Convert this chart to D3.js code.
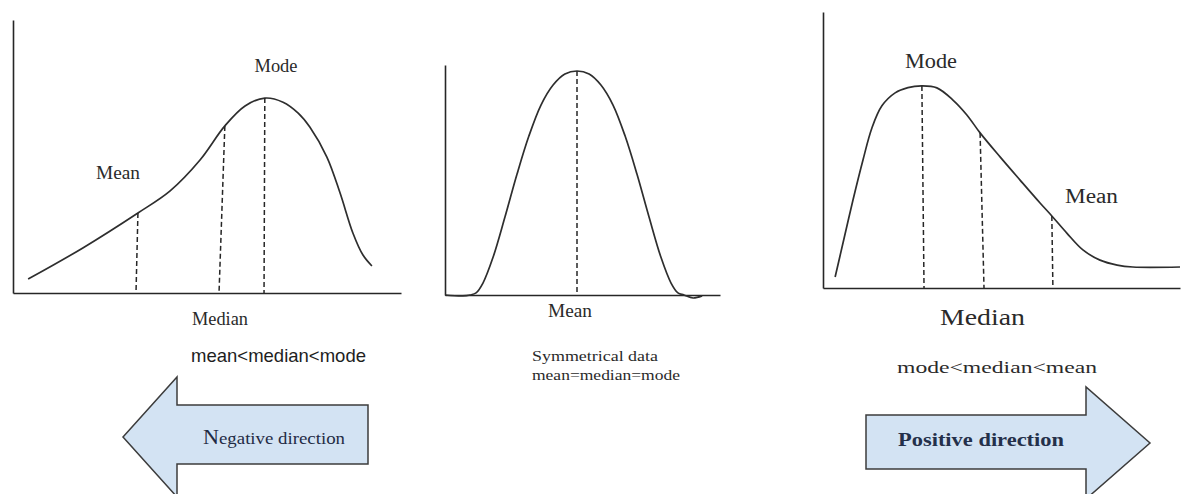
<!DOCTYPE html>
<html>
<head>
<meta charset="utf-8">
<script src="https://cdn.jsdelivr.net/npm/d3@7"></script>
<style>
  html, body { margin: 0; padding: 0; background: #fff; }
  svg { display: block; }
</style>
</head>
<body>
<svg id="chart" width="1182" height="494"></svg>
<script>
// ---------- DATA ----------
// Negatively skewed distribution (left panel)
const negX = [3.9, 18.0, 32.2, 40.5, 48.2, 54.6, 59.8, 64.9, 69.6, 73.5, 76.5, 80.9, 84.3, 87.6, 90.2, 92.5];
const negY = [5.1, 16.5, 29.3, 37.4, 48.7, 61.2, 68.5, 71.4, 69.9, 65.9, 60.8, 49.8, 36.6, 22.0, 13.9, 9.9];
const negMarkerNames = ["Mean", "Median", "Mode"];
const negMarkerTopX = [32.2, 54.6, 64.9];
const negMarkerBaseX = [31.7, 53.1, 64.7];
const negMarkerY = [29.3, 61.2, 71.4];

// Symmetrical distribution (middle panel)
const symX = [0, 6.5, 9.1, 11.3, 13.8, 17.5, 21.8, 26.2, 30.5, 34.9, 39.3, 43.6, 48, 52.4, 56.7, 61.1, 65.5, 69.8, 74.2, 78.5, 82.2, 84.7, 86.9, 90.2, 93.5];
const symY = [0, -0.4, 0, 0.9, 5.2, 16.5, 33.9, 52.6, 69.1, 82.6, 91.3, 96.1, 97.4, 96.1, 91.3, 82.6, 69.1, 52.6, 33.9, 16.5, 5.2, 0.9, 0, -1.3, -0.4];
const symMarkerNames = ["Mean"];
const symMarkerTopX = [48];
const symMarkerBaseX = [48];
const symMarkerY = [97.4];

// Positively skewed distribution (right panel)
const posX = [3.4, 5.6, 8.4, 11.2, 13.7, 16.5, 20.2, 23.8, 27.7, 31.9, 36.4, 40.3, 44.0, 49.6, 55.2, 60.8, 64.1, 68.3, 72.8, 77.6, 82.4, 86.8, 100];
const posY = [4.0, 16.3, 31.9, 46.4, 58.0, 66.0, 70.7, 72.6, 73.2, 72.5, 68.1, 62.7, 56.2, 47.5, 39.1, 30.8, 26.1, 19.9, 13.8, 10.1, 8.3, 7.6, 7.6];
const posMarkerNames = ["Mode", "Median", "Mean"];
const posMarkerTopX = [27.7, 44.0, 64.1];
const posMarkerBaseX = [28.3, 45.1, 64.4];
const posMarkerY = [73.2, 56.2, 26.1];

// Texts
const negCaption = "mean<median<mode";
const symCaptions = ["Symmetrical data", "mean=median=mode"];
const posCaption = "mode<median<mean";
const directionLabels = ["Negative direction", "Positive direction"];

// ---------- DRAWING ----------
const svg = d3.select("#chart");
const serif = "'Liberation Serif', 'Times New Roman', serif";
const sans = "'Liberation Sans', Arial, sans-serif";
const ink = "#262626";

function panel(cfg) {
  const x = d3.scaleLinear().domain([0, 100]).range(cfg.xr);
  const y = d3.scaleLinear().domain([0, 100]).range(cfg.yr);
  const g = svg.append("g");

  const xa = g.append("g").attr("transform", `translate(0,${cfg.yr[0]})`)
    .call(d3.axisBottom(x).tickValues([]).tickSizeOuter(0));
  const ya = g.append("g").attr("transform", `translate(${cfg.xr[0]},0)`)
    .call(d3.axisLeft(y).tickValues([]).tickSizeOuter(0));
  [xa, ya].forEach(a => a.select(".domain").attr("stroke", ink).attr("stroke-width", 1.6));

  const pts = cfg.xs.map((v, i) => [v, cfg.ys[i]]);
  g.append("path")
    .datum(pts)
    .attr("fill", "none")
    .attr("stroke", "#2e2e2e")
    .attr("stroke-width", 1.7)
    .attr("d", d3.line().x(d => x(d[0])).y(d => y(d[1])).curve(d3.curveCatmullRom.alpha(0.5)));

  g.selectAll("line.mk")
    .data(cfg.names.map((n, i) => ({ n, tx: cfg.topX[i], bx: cfg.baseX[i], ty: cfg.topY[i] })))
    .join("line")
    .attr("class", "mk")
    .attr("x1", d => x(d.tx)).attr("y1", d => y(d.ty))
    .attr("x2", d => x(d.bx)).attr("y2", y(0))
    .attr("stroke", ink)
    .attr("stroke-width", 1.5)
    .attr("stroke-dasharray", "5,3");
  return { x, y, g };
}

function label(txt, px, py, opts) {
  const t = svg.append("text")
    .attr("x", px).attr("y", py)
    .attr("font-family", opts.family || serif)
    .attr("font-size", opts.size || 18)
    .attr("font-weight", opts.weight || "normal")
    .attr("fill", opts.color || "#2a2a2a")
    .attr("text-anchor", opts.anchor || "start")
    .text(txt);
  if (opts.len) t.attr("textLength", opts.len).attr("lengthAdjust", "spacingAndGlyphs");
  return t;
}

// Left panel
panel({ xr: [13, 401], yr: [293, 20], xs: negX, ys: negY,
  names: negMarkerNames, topX: negMarkerTopX, baseX: negMarkerBaseX, topY: negMarkerY });
label(negMarkerNames[2], 276, 72, { size: 18, anchor: "middle", len: 43 });
label(negMarkerNames[0], 118, 179, { size: 18, anchor: "middle", len: 44 });
label(negMarkerNames[1], 192, 325, { size: 18, len: 56 });
label(negCaption, 191, 362, { family: sans, size: 19, len: 175, color: "#1e1e1e" });

// Middle panel
panel({ xr: [445, 720], yr: [295, 65], xs: symX, ys: symY,
  names: symMarkerNames, topX: symMarkerTopX, baseX: symMarkerBaseX, topY: symMarkerY });
label(symMarkerNames[0], 570, 317, { size: 18, anchor: "middle", len: 44 });
label(symCaptions[0], 532, 361, { size: 15, len: 126 });
label(symCaptions[1], 532, 380, { size: 15, len: 148 });

// Right panel
panel({ xr: [823, 1180], yr: [288, 12], xs: posX, ys: posY,
  names: posMarkerNames, topX: posMarkerTopX, baseX: posMarkerBaseX, topY: posMarkerY });
label(posMarkerNames[0], 931, 68, { size: 20, anchor: "middle", len: 52 });
label(posMarkerNames[2], 1065, 203, { size: 20, len: 53 });
label(posMarkerNames[1], 940, 325, { size: 23, len: 85 });
label(posCaption, 897, 373, { size: 17, len: 200 });

// Direction arrows
const arrowFill = "#d3e3f3", arrowStroke = "#3c3c3c";
const leftArrow = [[123, 437], [177, 377], [177, 405], [368, 405], [368, 464], [177, 464], [177, 497]];
const rightArrow = [[866, 415], [1086, 415], [1086, 387], [1150, 443], [1086, 499], [1086, 469], [866, 469]];
[leftArrow, rightArrow].forEach(p => {
  svg.append("path")
    .attr("d", d3.line()(p) + "Z")
    .attr("fill", arrowFill)
    .attr("stroke", arrowStroke)
    .attr("stroke-width", 1.5)
    .attr("stroke-linejoin", "miter");
});
const nt = svg.append("text")
  .attr("x", 203).attr("y", 444)
  .attr("font-family", serif)
  .attr("fill", "#1f2b45")
  .attr("textLength", 142)
  .attr("lengthAdjust", "spacingAndGlyphs");
nt.append("tspan").attr("font-size", 20).text(directionLabels[0].slice(0, 1));
nt.append("tspan").attr("font-size", 17).text(directionLabels[0].slice(1));
label(directionLabels[1], 898, 446, { size: 19, weight: "bold", color: "#24304a", len: 166 });
</script>
</body>
</html>
